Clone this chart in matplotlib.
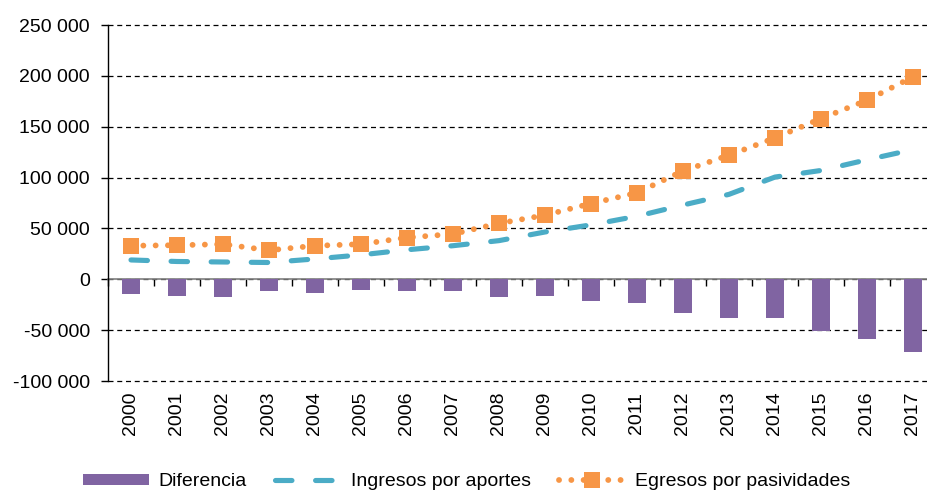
#!/usr/bin/env python3
"""Ingresos por aportes vs egresos por pasividades, 2000-2017."""
import matplotlib
matplotlib.use("Agg")
import matplotlib.pyplot as plt
import matplotlib.transforms as mtransforms
from matplotlib.ticker import FuncFormatter, FixedLocator
import numpy as np

YEARS = [str(y) for y in range(2000, 2018)]
DIFERENCIA = [-14000, -16000, -17500, -12000, -13000, -10500, -12000, -11500, -17000,
              -16500, -21000, -23000, -33500, -38500, -38500, -51000, -58500, -71500]
INGRESOS = [19000, 17500, 17000, 16500, 20000, 24000, 29000, 33000, 38000,
            46500, 53500, 62000, 73000, 83500, 100500, 107000, 117500, 127500]
EGRESOS = [33000, 33500, 34500, 28500, 33000, 34500, 41000, 44500, 55000,
           63000, 74500, 85000, 106500, 122000, 139000, 158000, 176000, 199000]

PURPLE = "#8064A2"
BLUE = "#4BACC6"
ORANGE = "#F79646"

plt.rcParams["font.family"] = ["Liberation Sans", "DejaVu Sans"]
plt.rcParams["font.size"] = 14

fig = plt.figure(figsize=(9.27, 4.91), dpi=100)
ax = fig.add_axes([108 / 927, 1 - 381 / 491, 828 / 927, 356 / 491])

x = np.arange(len(YEARS))
bars = ax.bar(x, DIFERENCIA, width=0.39, color=PURPLE, label="Diferencia", zorder=3)
(l_ing,) = ax.plot(x, INGRESOS, color=BLUE, lw=3.7, linestyle=(0, (3.2, 4.6)),
                   dash_capstyle="round", label="Ingresos por aportes", zorder=4)
(l_egr,) = ax.plot(x, EGRESOS, color=ORANGE, lw=4.2, linestyle=(0, (0.01, 2.1)),
                   dash_capstyle="round", marker="s", markersize=11, markeredgewidth=0,
                   label="Egresos por pasividades", zorder=5)

ax.set_xlim(-0.5, len(YEARS) - 0.5)
ax.set_ylim(-100000, 250000)
ax.yaxis.set_major_locator(FixedLocator(np.arange(-100000, 250001, 50000)))
ax.yaxis.set_major_formatter(FuncFormatter(lambda v, _: f"{v:,.0f}".replace(",", " ")))
ax.grid(axis="y", color="black", linestyle=(0, (4, 3)), linewidth=0.9, zorder=0)
for gl in ax.get_ygridlines():
    gl.set_clip_on(False)
ax.set_axisbelow(True)

for s in ("top", "right"):
    ax.spines[s].set_visible(False)
ax.spines["left"].set_linewidth(1.0)
ax.spines["bottom"].set_position(("data", 0))
ax.spines["bottom"].set_color("#7f7f7f")
ax.spines["bottom"].set_linewidth(1.2)
ax.spines["bottom"].set_zorder(2)

ax.set_xticks(np.arange(-0.5, len(YEARS), 1.0))
ax.set_xticklabels([])
ax.tick_params(axis="x", direction="out", length=5, color="black", width=1)
ax.tick_params(axis="y", direction="out", length=5, width=1, pad=8)

trans = mtransforms.blended_transform_factory(ax.transData, ax.transAxes)
for i, lab in enumerate(YEARS):
    ax.text(i, -0.03, lab, transform=trans, rotation=90, ha="center", va="top")

fig.legend(handles=[bars, l_ing, l_egr], loc="center",
           bbox_to_anchor=(0.503, 1 - 482 / 491), ncol=3,
           frameon=False, handlelength=3.4, handleheight=0.55,
           columnspacing=1.45, handletextpad=0.5, borderaxespad=0)

fig.savefig("out.png", dpi=100)
